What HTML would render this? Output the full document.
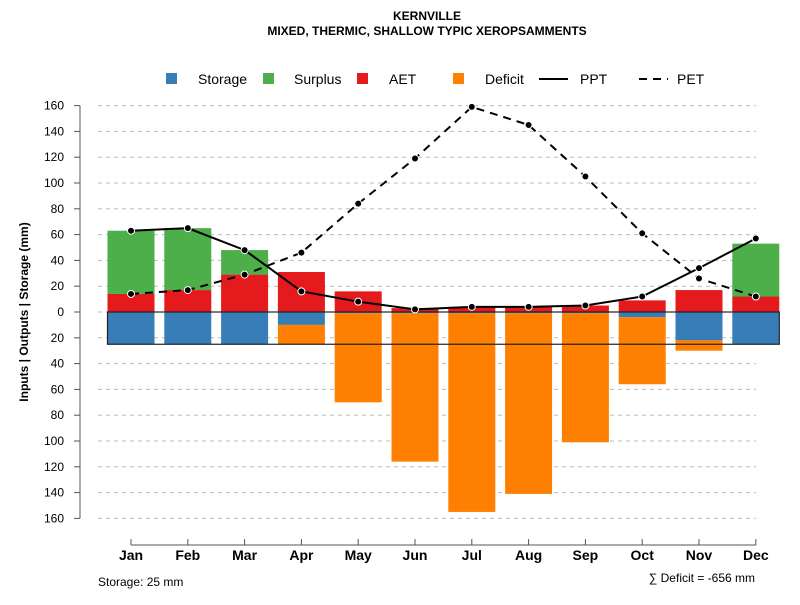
<!DOCTYPE html>
<html><head><meta charset="utf-8"><style>
body{margin:0;background:#fff;font-family:"Liberation Sans",sans-serif;}
svg text{font-family:"Liberation Sans",sans-serif;}
</style></head><body>
<svg id="c" width="800" height="600" xmlns="http://www.w3.org/2000/svg">
<text x="427" y="20" font-size="12" font-weight="bold" text-anchor="middle">KERNVILLE</text>
<text x="427" y="35" font-size="12" font-weight="bold" text-anchor="middle">MIXED, THERMIC, SHALLOW TYPIC XEROPSAMMENTS</text>
<g id="legend">
<rect x="166" y="73" width="11" height="11" fill="#377eb8"/>
<text x="198" y="84" font-size="14">Storage</text>
<rect x="263" y="73" width="11" height="11" fill="#4daf4a"/>
<text x="294" y="84" font-size="14">Surplus</text>
<rect x="357" y="73" width="11" height="11" fill="#e41a1c"/>
<text x="389" y="84" font-size="14">AET</text>
<rect x="453" y="73" width="11" height="11" fill="#ff7f00"/>
<text x="485" y="84" font-size="14">Deficit</text>
<line x1="539" y1="79" x2="568" y2="79" stroke="#000" stroke-width="2"/>
<text x="580" y="84" font-size="14">PPT</text>
<line x1="639" y1="79" x2="668" y2="79" stroke="#000" stroke-width="2" stroke-dasharray="8,6"/>
<text x="677" y="84" font-size="14">PET</text>
</g>
<text transform="translate(28,312) rotate(-90)" font-size="12" font-weight="bold" text-anchor="middle">Inputs | Outputs | Storage    (mm)</text>
<text x="98" y="586" font-size="12">Storage: 25 mm</text>
<text x="755" y="582" font-size="12" text-anchor="end">∑ Deficit = -656 mm</text>
</svg>
<script>
const months=["Jan","Feb","Mar","Apr","May","Jun","Jul","Aug","Sep","Oct","Nov","Dec"];
const ppt=[63,65,48,16,8,2,4,4,5,12,34,57];
const pet=[14,17,29,46,84,119,159,145,105,61,26,12];
const aet=[14,17,29,31,16,3,4,4,5,9,17,12];
const surplus=[49,48,19,0,0,0,0,0,0,0,0,41];
const storage=[25,25,25,10,1,1,1,1,1,4,22,25];
const deficit=[0,0,0,15,69,115,154,140,100,52,8,0];
const yTicks=[-160,-140,-120,-100,-80,-60,-40,-20,0,20,40,60,80,100,120,140,160];
const NS="http://www.w3.org/2000/svg";
const svg=document.getElementById('c');
const x=i=>131+i*56.8;
const y=v=>312-v*1.29;
const bw=47;
function mk(t,a,p){const e=document.createElementNS(NS,t);for(const k in a)e.setAttribute(k,a[k]);(p||svg).appendChild(e);return e;}
// grid + ticks
mk('line',{x1:80,y1:y(160),x2:80,y2:y(-160),stroke:'#555','stroke-width':1});
yTicks.forEach(t=>{
  const g=mk('line',{x1:98,y1:y(t),x2:756,y2:y(t),stroke:'#bbb','stroke-dasharray':'4,4'});
  
  
  mk('line',{x1:74,y1:y(t),x2:80,y2:y(t),stroke:'#555'});
  const l=mk('text',{x:64,y:y(t)+4,'font-size':12,'text-anchor':'end'});
  l.textContent=Math.abs(t);
  
  
});
mk('line',{x1:x(0),y1:545,x2:x(11),y2:545,stroke:'#555'});
months.forEach((m,i)=>{
  mk('line',{x1:x(i),y1:539,x2:x(i),y2:545,stroke:'#555'});
  const l=mk('text',{x:x(i),y:560,'font-size':14,'font-weight':'bold','text-anchor':'middle'});
  l.textContent=m;
  
  
  const b0=mk('rect',{x:x(i)-bw/2,y:y(aet[i]),width:bw,height:aet[i]*1.29,fill:'#e41a1c'});
  
  
  const b1=mk('rect',{x:x(i)-bw/2,y:y(aet[i]+surplus[i]),width:bw,height:surplus[i]*1.29,fill:'#4daf4a'});
  
  
  const b2=mk('rect',{x:x(i)-bw/2,y:y(0),width:bw,height:storage[i]*1.29,fill:'#377eb8'});
  
  
  const b3=mk('rect',{x:x(i)-bw/2,y:y(-storage[i]),width:bw,height:deficit[i]*1.29,fill:'#ff7f00'});
  
  
});
mk('rect',{x:x(0)-bw/2,y:y(0),width:x(11)-x(0)+bw,height:25*1.29,fill:'none',stroke:'#222','stroke-width':1.2});
function line(arr,dash,name){
  const p=mk('polyline',{points:arr.map((v,i)=>x(i)+','+y(v)).join(' '),fill:'none',stroke:'#000','stroke-width':2,'stroke-dasharray':dash});
  
  
  arr.forEach((v,i)=>{
    const c=mk('circle',{cx:x(i),cy:y(v),r:3.5,fill:'#000',stroke:'#fff','stroke-width':1});
    
    
  });
}
line(pet,'8,6','pet');
line(ppt,'none','ppt');
</script>
</body></html>
